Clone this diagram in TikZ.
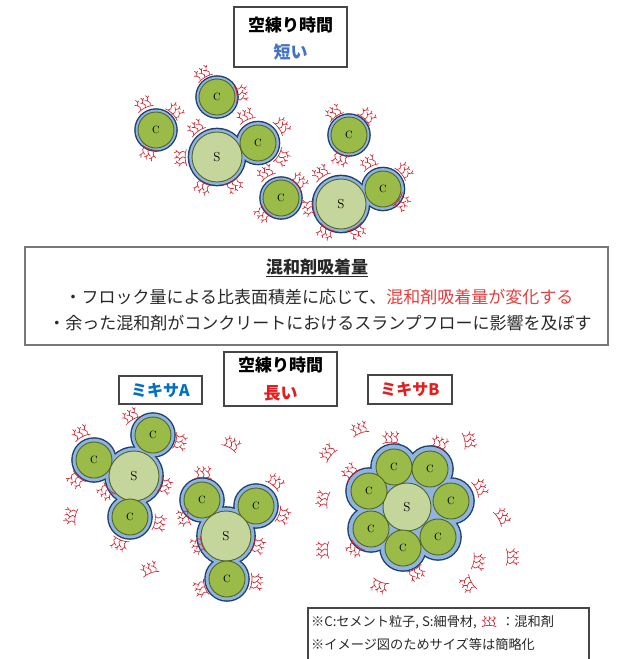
\documentclass[tikz,border=0pt]{standalone}
\usepackage{fontspec}
\newfontfamily\jp{Noto Sans CJK JP}
\definecolor{ringblue}{RGB}{143,180,222}
\definecolor{ringnavy}{RGB}{31,63,110}
\definecolor{cgreen}{RGB}{155,187,72}
\definecolor{sgreen}{RGB}{196,214,155}
\definecolor{cedge}{RGB}{80,98,40}
\definecolor{admred}{RGB}{210,35,45}
\definecolor{titleblue}{RGB}{68,114,196}
\definecolor{mixblue}{RGB}{0,112,192}
\definecolor{mixred}{RGB}{228,30,30}
\definecolor{txtred}{RGB}{232,60,60}
\definecolor{framegray}{RGB}{70,70,70}
\definecolor{boxgray}{RGB}{120,120,120}
\definecolor{txtgray}{RGB}{40,40,40}

% blue coating of a group of particles: dark rim, then light fill hiding inner rims
\newcommand\coatgroup[2]{%
  \foreach \px/\py/\pr in {#2} \fill[ringnavy] (\px,\py) circle (\pr+#1+0.8);
  \foreach \px/\py/\pr in {#2} \fill[ringblue] (\px,\py) circle (\pr+#1-0.6);
}

\tikzset{
  admline/.style={draw=admred, line width=0.65pt, line cap=round, line join=round},
  adm/.pic={
    \begin{scope}[scale=1.1]
    \draw[admline] (-7.5,6) .. controls (-3,4.2) and (3,4.2) .. (7.5,6);
    \foreach \dx in {-5,0,5}{
      \draw[admline] (\dx,5) -- ++(1,-2.5) -- ++(-1.6,-2.5) -- ++(1.6,-2.5) -- ++(-1,-2.5);
      \draw[admline] (\dx-0.6,0) -- ++(-2,-1.2);
      \draw[admline] (\dx+0.6,-2.5) -- ++(1.8,-1);
    }
    \end{scope}
  },
  cpart/.style={circle, fill=cgreen, draw=cedge, line width=0.9pt, minimum size=36pt,
    inner sep=0pt, font=\fontsize{10.5}{10.5}\selectfont},
  spart/.style={cpart, fill=sgreen, minimum size=50pt, font=\fontsize{13}{13}\selectfont},
  frame/.style={draw=framegray, line width=1.1pt, inner sep=0pt},
  jtext/.style={font=\jp\fontsize{17}{17}\selectfont, inner sep=0pt},
  jbold/.style={font=\jp\bfseries\fontsize{17}{17}\selectfont, inner sep=0pt},
  jsmall/.style={font=\jp\fontsize{13.2}{13.2}\selectfont, inner sep=0pt, text=txtgray},
}

\begin{document}
\begin{tikzpicture}[x=1pt,y=-1pt]
\useasboundingbox (0,0) rectangle (627,659);

% ---------------- short dry mixing ----------------
\node[frame, minimum width=113pt, minimum height=60pt] (topbox) at (290.5,37) {};
\node[jbold] (toptitle) at (290.5,25) {空練り時間};
\node[jbold, text=titleblue] (topshort) at (290.5,52) {短い};

\coatgroup{3}{156/130/18}
\coatgroup{3}{217/97/18}
\coatgroup{3.5}{217/157/25, 258/143/18}
\coatgroup{3}{349/135/18}
\coatgroup{3}{281/198/18}
\coatgroup{3.5}{341/204/25, 383/189/18}

\node[cpart] (t1) at (156,130) {C};
\node[cpart] (t2) at (217,97) {C};
\node[spart] (t3s) at (217,157) {S};
\node[cpart] (t3c) at (258,143) {C};
\node[cpart] (t4) at (349,135) {C};
\node[cpart] (t5) at (281,198) {C};
\node[spart] (t6s) at (341,204) {S};
\node[cpart] (t6c) at (383,189) {C};

\foreach \ax/\ay/\ar in {143/103/26, 176/110/-45, 148/154/162, 202/73/32, 242/93/-81,
  195/127/36, 180/158/92, 202/188/154, 235/186/-148, 245/115/25, 283/125/-54,
  283/158/-121, 333/112/35, 368/115/-44, 340/160/160, 265/172/32, 300/180/-47,
  262/215/132, 308/208/97, 320/172/33, 325/233/151, 358/232/-149, 368/162/29,
  405/170/-49, 403/203/-125}
  \pic[rotate=\ar] at (\ax,\ay) {adm};

% ---------------- summary box ----------------
\node[draw=boxgray, line width=1.4pt, minimum width=583pt, minimum height=98pt, inner sep=0pt]
  (sumbox) at (316.5,296) {};
\node[jbold, text=txtgray] (sumtitle) at (317,268) {\underline{混和剤吸着量}};
\node[jtext, text=txtgray] (sumline1) at (319,297)
  {・フロック量による比表面積差に応じて、{\color{txtred}混和剤吸着量が変化する}};
\node[jtext, text=txtgray] (sumline2) at (320,323)
  {・余った混和剤がコンクリートにおけるスランプフローに影響を及ぼす};

% ---------------- long dry mixing ----------------
\node[frame, minimum width=113pt, minimum height=54pt] (botbox) at (280.5,379) {};
\node[jbold] (bottitle) at (280.5,365) {空練り時間};
\node[jbold, text=mixred] (botlong) at (280.5,393) {長い};

\node[frame, minimum width=83pt, minimum height=28pt, jbold, text=mixblue,
  font=\jp\bfseries\fontsize{16}{16}\selectfont] (mixA) at (160.5,390) {ミキサA};
\node[frame, minimum width=84pt, minimum height=29pt, jbold, text=mixred,
  font=\jp\bfseries\fontsize{16}{16}\selectfont] (mixB) at (410,389.5) {ミキサB};

% mixer A: two flocs
\coatgroup{4}{153/435/18, 94/460/18, 134/476/25, 130/517/18}
\node[cpart] (a1t) at (153,435) {C};
\node[cpart] (a1l) at (94,460) {C};
\node[spart] (a1s) at (134,476) {S};
\node[cpart] (a1b) at (130,517) {C};

\coatgroup{4}{202/500/18, 256/506/18, 226/536/25, 227/579/18}
\node[cpart] (a2l) at (202,500) {C};
\node[cpart] (a2r) at (256,506) {C};
\node[spart] (a2s) at (226,536) {S};
\node[cpart] (a2b) at (227,579) {C};

\foreach \ax/\ay/\ar in {130/415/30, 80/432/27, 181/442/-104, 75/481/138, 105/493/135,
  166/486/-107, 160/523/-101, 119/545/159, 232/443/-30, 70/516/80, 149/568/20,
  203/472/0, 276/481/-39, 183/518/100, 284/516/-110, 197/546/109, 259/546/-107,
  200/589/110, 257/582/-96}
  \pic[rotate=\ar] at (\ax,\ay) {adm};

% mixer B: one large floc
\foreach \px/\py in {394/467, 430/469, 451/501, 438/537, 403/548, 371/529, 369/491}
  \fill[ringnavy] (\px,\py) circle (23.8);
\foreach \px/\py in {394/467, 430/469, 451/501, 438/537, 403/548, 371/529, 369/491}
  \fill[ringblue] (\px,\py) circle (22.4);
\fill[ringblue] (407,507) circle (44);
\node[spart, minimum size=48pt] (bs) at (407,507) {S};
\foreach \px/\py [count=\i] in {394/467, 430/469, 451/501, 438/537, 403/548, 371/529, 369/491}
  \node[cpart] (bc\i) at (\px,\py) {C};

\foreach \ax/\ay/\ar in {391/437/0, 440/442/-20, 349/471/45, 481/487/-65, 354/550/141,
  417/574/-152, 359/428/20, 327/452/50, 470/440/-80, 322/499/80, 503/516/-60,
  322/550/90, 513/557/-90, 479/562/-100, 379/587/160, 467/585/120}
  \pic[rotate=\ar] at (\ax,\ay) {adm};

% ---------------- legend ----------------
\draw[framegray, line width=1.1pt] (308,672) -- (308,608) -- (589,608) -- (589,672);
\node[jsmall, anchor=west] (leg1) at (311,622) {※C:セメント粒子, S:細骨材,};
\pic[scale=0.85] at ([xshift=12pt,yshift=1pt]leg1.east) {adm};
\node[jsmall, anchor=west] (leg1b) at ([xshift=24pt]leg1.east) {：混和剤};
\node[jsmall, anchor=west] (leg2) at (311,644) {※イメージ図のためサイズ等は簡略化};

\end{tikzpicture}
\end{document}
